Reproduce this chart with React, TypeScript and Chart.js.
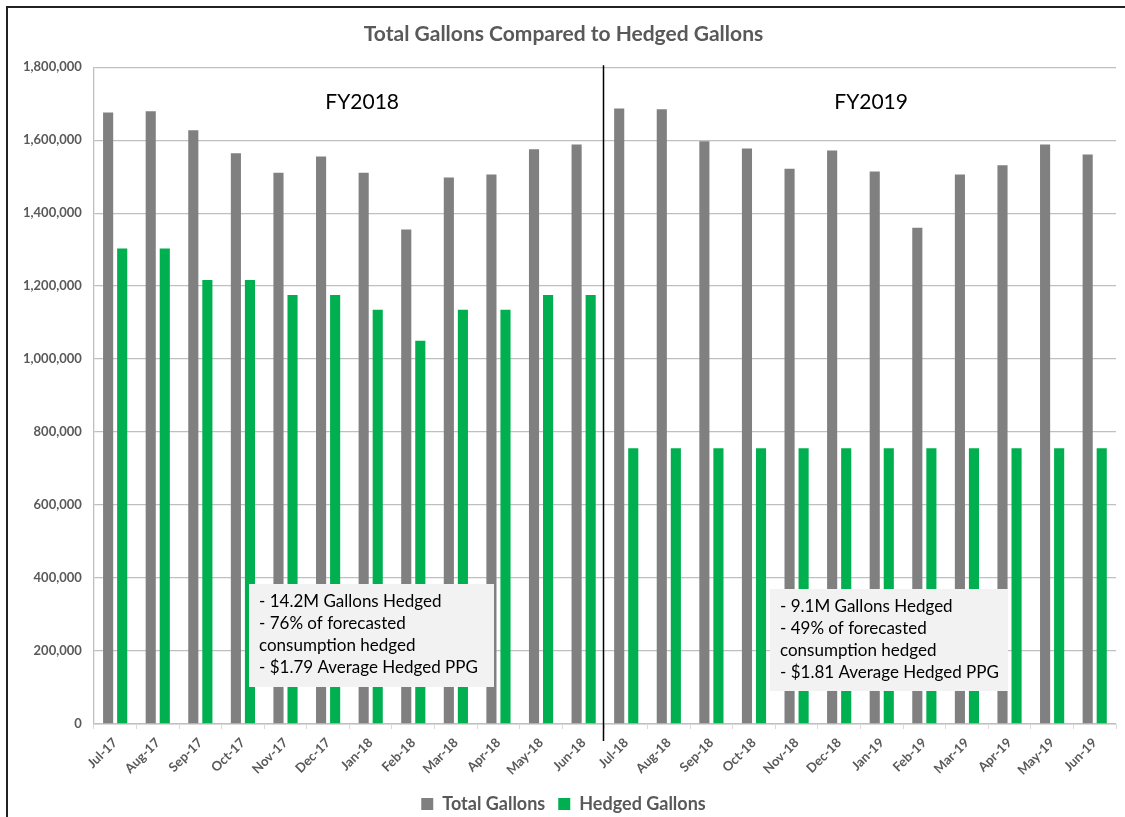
import React, { useEffect, useRef } from "react";
import { Chart, registerables } from "chart.js";

Chart.register(...registerables);

const months = [
  "Jul-17", "Aug-17", "Sep-17", "Oct-17", "Nov-17", "Dec-17", "Jan-18", "Feb-18", "Mar-18", "Apr-18", "May-18", "Jun-18",
  "Jul-18", "Aug-18", "Sep-18", "Oct-18", "Nov-18", "Dec-18", "Jan-19", "Feb-19", "Mar-19", "Apr-19", "May-19", "Jun-19",
];
const totalGallons = [
  1676000, 1679000, 1627000, 1564000, 1511000, 1555000, 1511000, 1355000, 1498000, 1506000, 1575000, 1588000,
  1687000, 1685000, 1597000, 1577000, 1522000, 1572000, 1514000, 1360000, 1506000, 1531000, 1588000, 1561000,
];
const hedgedGallons = [
  1303000, 1303000, 1217000, 1217000, 1176000, 1176000, 1135000, 1050000, 1135000, 1135000, 1176000, 1176000,
  756000, 756000, 756000, 756000, 756000, 756000, 756000, 756000, 756000, 756000, 756000, 756000,
];
const fyLabels = ["FY2018", "FY2019"];
const fy2018Notes = ["- 14.2M Gallons Hedged", "- 76% of forecasted", "consumption hedged", "- $1.79 Average Hedged PPG"];
const fy2019Notes = ["- 9.1M Gallons Hedged", "- 49% of forecasted", "consumption hedged", "- $1.81 Average Hedged PPG"];

const FONT = "Lato, 'Open Sans', sans-serif";

const annotations = {
  id: "annotations",
  afterDatasetsDraw(chart: any) {
    const ctx = chart.ctx;
    const x = chart.scales.x;
    const y = chart.scales.y;
    const area = chart.chartArea;
    const xAt = (v: number) => {
      const i = Math.floor(v);
      const f = v - i;
      return x.getPixelForValue(i) * (1 - f) + x.getPixelForValue(i + 1) * f;
    };
    ctx.save();
    // frame lines
    ctx.strokeStyle = "#222";
    ctx.lineWidth = 2;
    ctx.beginPath();
    ctx.moveTo(7, 817);
    ctx.lineTo(7, 7);
    ctx.lineTo(1125, 7);
    ctx.stroke();
    // divider
    const divX = Math.round(xAt(11.5)) - 1.5;
    ctx.strokeStyle = "#000";
    ctx.lineWidth = 1.5;
    ctx.beginPath();
    ctx.moveTo(divX, area.top - 2);
    ctx.lineTo(divX, area.bottom + 17);
    ctx.stroke();
    // FY labels
    ctx.fillStyle = "#000";
    ctx.font = `21px ${FONT}`;
    ctx.textAlign = "center";
    ctx.textBaseline = "middle";
    const fyY = y.getPixelForValue(1704000);
    ctx.fillText(fyLabels[0], xAt(5.8), fyY);
    ctx.fillText(fyLabels[1], xAt(17.75), fyY);
    // note boxes
    const drawBox = (left: number, top: number, w: number, h: number, lines: string[]) => {
      ctx.fillStyle = "#f2f2f2";
      ctx.fillRect(left, top, w, h);
      ctx.fillStyle = "#000";
      ctx.font = `17px ${FONT}`;
      ctx.textAlign = "left";
      ctx.textBaseline = "middle";
      lines.forEach((l, i) => ctx.fillText(l, left + 10, top + 18 + i * 22));
    };
    drawBox(249, 584, 245, 103, fy2018Notes);
    drawBox(770, 589, 238, 102, fy2019Notes);
    ctx.restore();
  },
};

export default function App() {
  const ref = useRef<HTMLCanvasElement>(null);
  useEffect(() => {
    if (!ref.current) return;
    const chart = new Chart(ref.current, {
      type: "bar",
      data: {
        labels: months,
        datasets: [
          { label: "Total Gallons", data: totalGallons, backgroundColor: "#808080", borderWidth: 0, barPercentage: 0.72, categoryPercentage: 0.66 },
          { label: "Hedged Gallons", data: hedgedGallons, backgroundColor: "#00b050", borderWidth: 0, barPercentage: 0.72, categoryPercentage: 0.66 },
        ],
      },
      plugins: [annotations],
      options: {
        animation: false,
        responsive: false,
        devicePixelRatio: 1,
        layout: { padding: { left: 11, right: 9, top: 10, bottom: -6 } },
        plugins: {
          title: {
            display: true,
            text: "Total Gallons Compared to Hedged Gallons",
            color: "#595959",
            font: { family: FONT, size: 21, weight: "bold" },
            padding: { top: 12, bottom: 20 },
          },
          legend: {
            position: "bottom",
            labels: {
              color: "#595959",
              font: { family: FONT, size: 18, weight: "bold" },
              boxWidth: 12,
              boxHeight: 12,
              padding: 13,
            },
          },
          tooltip: { enabled: false },
        },
        scales: {
          x: {
            afterFit: (scale: any) => { scale.height = 58; },
            grid: { display: true, drawOnChartArea: false, drawTicks: true, tickLength: 5, color: "#d9d9d9", offset: true },
            border: { color: "#d9d9d9", width: 1 },
            ticks: {
              color: "#595959",
              font: { family: FONT, size: 13, weight: "bold" },
              maxRotation: 45,
              minRotation: 45,
              padding: 6,
              autoSkip: false,
            },
          },
          y: {
            min: 0,
            max: 1800000,
            grid: { color: "#bfbfbf", lineWidth: 1.3, drawTicks: false },
            border: { color: "#bfbfbf", width: 1.3 },
            ticks: {
              stepSize: 200000,
              color: "#595959",
              font: { family: FONT, size: 13, weight: "bold" },
              padding: 12,
              callback: (v: any) => Number(v).toLocaleString("en-US"),
            },
          },
        },
      },
    });
    return () => chart.destroy();
  }, []);
  return (
    <div style={{ position: "absolute", left: 0, top: 0, width: 1125, height: 817, background: "#fff" }}>
      <canvas ref={ref} width={1125} height={817} style={{ display: "block" }} />
    </div>
  );
}
